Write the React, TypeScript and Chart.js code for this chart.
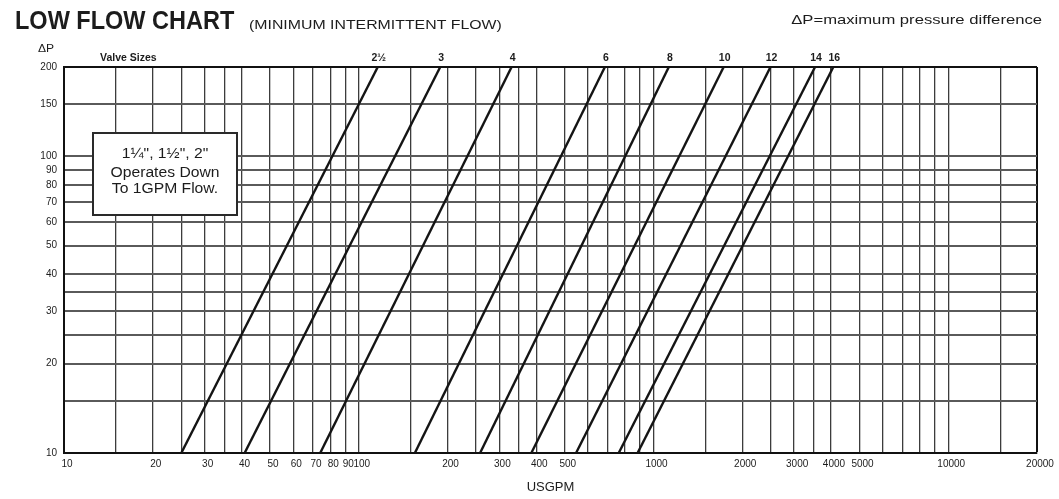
import React, { useEffect, useRef } from "react";
import { Chart, registerables } from "chart.js";

Chart.register(...registerables);

// ---- data ----
const valveSizes = ["2½", "3", "4", "6", "8", "10", "12", "14", "16"];
const flowAtLowDp = [25, 41, 74, 155, 258, 385, 546, 762, 883];
const flowAtHighDp = [116, 189, 330, 684, 1127, 1730, 2494, 3532, 4074];
const dpRange = [10, 200];

const xLabelTicks = [10, 20, 30, 40, 50, 60, 70, 80, 90, 100, 200, 300, 400, 500, 1000, 2000, 3000, 4000, 5000, 10000, 20000];
const xGridTicks = [10, 15, 20, 25, 30, 35, 40, 50, 60, 70, 80, 90, 100, 150, 200, 250, 300, 350, 400, 500, 600, 700, 800, 900, 1000, 1500, 2000, 2500, 3000, 3500, 4000, 5000, 6000, 7000, 8000, 9000, 10000, 15000, 20000];
const yLabelTicks = [10, 20, 30, 40, 50, 60, 70, 80, 90, 100, 150, 200];
const yGridTicks = [10, 15, 20, 25, 30, 35, 40, 50, 60, 70, 80, 90, 100, 150, 200];

const noteLines = ["1¼\", 1½\", 2\"", "Operates Down", "To 1GPM Flow."];

const FONT = "'Liberation Sans', Arial, sans-serif";
const INK = "#1c1c1c";

function stretchText(ctx: CanvasRenderingContext2D, text: string, x: number, y: number, font: string, align: CanvasTextAlign, sx: number) {
  ctx.save();
  ctx.font = font;
  ctx.textAlign = align;
  ctx.textBaseline = "alphabetic";
  ctx.fillStyle = INK;
  ctx.translate(x, y);
  ctx.scale(sx, 1);
  ctx.fillText(text, 0, 0);
  ctx.restore();
}

const decorPlugin = {
  id: "decor",
  afterDatasetsDraw(chart: any) {
    const ctx: CanvasRenderingContext2D = chart.ctx;
    ctx.save();
    ctx.fillStyle = "#ffffff";
    ctx.fillRect(93, 133, 144, 82);
    ctx.strokeStyle = "#2a2a2a";
    ctx.lineWidth = 2;
    ctx.strokeRect(93, 133, 144, 82);
    ctx.restore();
    const baselines = [158, 177, 193];
    noteLines.forEach((t, i) => stretchText(ctx, t, 165, baselines[i], `14px ${FONT}`, "center", 1.12));
  },
  afterDraw(chart: any) {
    const ctx: CanvasRenderingContext2D = chart.ctx;
    stretchText(ctx, "LOW FLOW CHART", 15, 29, `bold 25px ${FONT}`, "left", 0.94);
    stretchText(ctx, "(MINIMUM INTERMITTENT FLOW)", 249, 29, `13px ${FONT}`, "left", 1.22);
    stretchText(ctx, "ΔP=maximum pressure difference", 1042, 24, `13px ${FONT}`, "right", 1.28);
    stretchText(ctx, "ΔP", 38, 52, `11px ${FONT}`, "left", 1.1);
    stretchText(ctx, "Valve Sizes", 100, 61, `bold 10px ${FONT}`, "left", 1.05);
    const xs = chart.scales.x;
    valveSizes.forEach((label, i) => {
      const px = xs.getPixelForValue(flowAtHighDp[i]);
      stretchText(ctx, label, px + 1, 61, `bold 10px ${FONT}`, "center", 1.05);
    });
  },
};

export default function App() {
  const ref = useRef<HTMLCanvasElement | null>(null);

  useEffect(() => {
    document.body.style.margin = "0";
    const canvas = ref.current;
    if (!canvas) return;

    const datasets = valveSizes.map((label, i) => ({
      label,
      data: [
        { x: flowAtLowDp[i], y: dpRange[0] },
        { x: flowAtHighDp[i], y: dpRange[1] },
      ],
      borderColor: "#141414",
      borderWidth: 2.4,
      pointRadius: 0,
      fill: false,
      tension: 0,
    }));

    const chart = new Chart(canvas, {
      type: "line",
      data: { datasets },
      options: {
        animation: false,
        responsive: false,
        devicePixelRatio: 1,
        layout: { padding: { top: 67, right: 22, bottom: 0, left: 0 } },
        plugins: { legend: { display: false }, tooltip: { enabled: false }, title: { display: false } },
        scales: {
          x: {
            type: "logarithmic",
            min: 10,
            max: 20000,
            afterBuildTicks: (scale: any) => {
              scale.ticks = xGridTicks.map((v) => ({ value: v }));
            },
            afterFit: (scale: any) => {
              scale.height = 46;
            },
            ticks: {
              autoSkip: false,
              maxRotation: 0,
              minRotation: 0,
              padding: 5,
              labelOffset: 3,
              color: INK,
              font: { family: FONT, size: 10 },
              callback: (value: any) => (xLabelTicks.includes(Number(value)) ? String(value) : ""),
            },
            grid: {
              color: (c: any) => (c.tick && c.tick.value === 20000 ? "#111" : "#3c3c3c"),
              lineWidth: (c: any) => (c.tick && c.tick.value === 20000 ? 2 : 1.3),
              drawTicks: false,
            },
            border: { display: true, color: "#111", width: 2 },
            title: { display: true, text: "USGPM", color: INK, font: { family: FONT, size: 13 }, padding: { top: 4, bottom: 4 } },
          },
          y: {
            type: "logarithmic",
            min: 10,
            max: 200,
            afterBuildTicks: (scale: any) => {
              scale.ticks = yGridTicks.map((v) => ({ value: v }));
            },
            afterFit: (scale: any) => {
              scale.width = 64;
            },
            ticks: {
              autoSkip: false,
              padding: 7,
              color: INK,
              font: { family: FONT, size: 10 },
              callback: (value: any) => (yLabelTicks.includes(Number(value)) ? String(value) : ""),
            },
            grid: {
              color: (c: any) => (c.tick && c.tick.value === 200 ? "#111" : "#5a5a5a"),
              lineWidth: 2,
              drawTicks: false,
            },
            border: { display: true, color: "#111", width: 2 },
          },
        },
      },
      plugins: [decorPlugin],
    } as any);

    return () => chart.destroy();
  }, []);

  return (
    <div style={{ width: 1059, height: 499, background: "#fff" }}>
      <canvas ref={ref} width={1059} height={499} style={{ display: "block" }} />
    </div>
  );
}
